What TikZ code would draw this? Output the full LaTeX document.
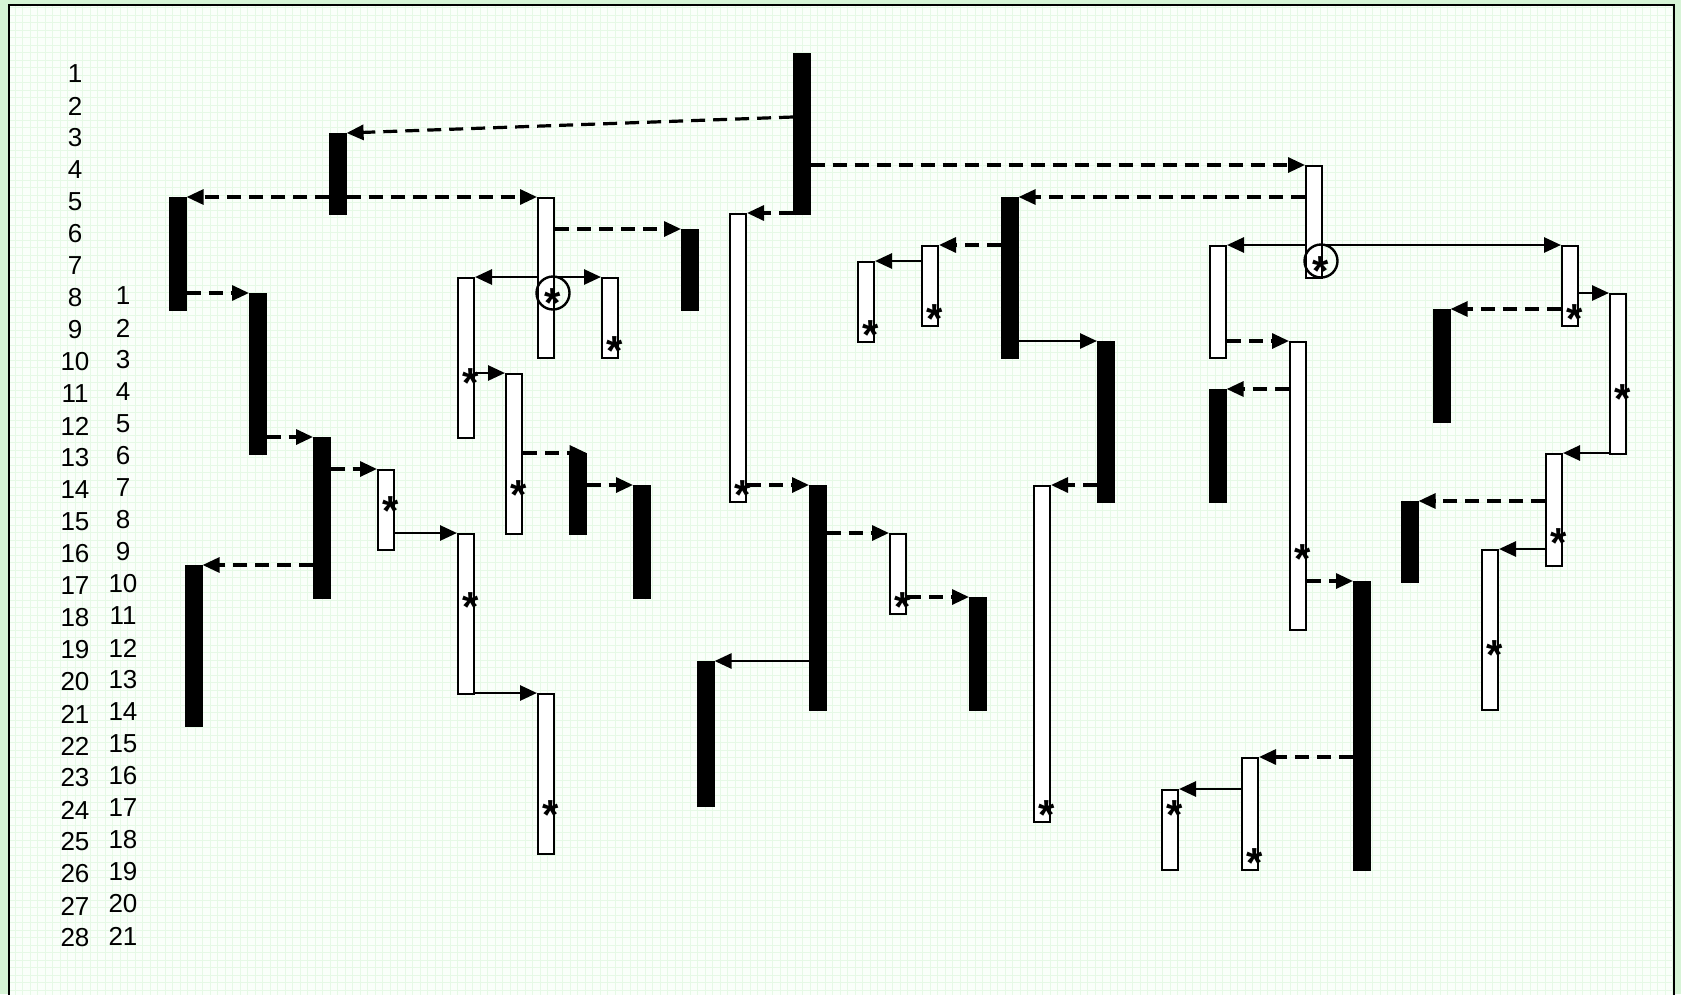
\documentclass[tikz,border=0pt]{standalone}
\usepackage{fontspec}
\setmainfont{Liberation Sans}
\usetikzlibrary{arrows.meta,calc}
\pgfdeclarelayer{back}
\pgfdeclarelayer{under}
\pgfsetlayers{back,under,main}
\definecolor{outergreen}{RGB}{214,244,214}
\definecolor{innerbg}{RGB}{250,255,250}
\definecolor{gridgreen}{RGB}{230,249,230}
\tikzset{
 bar/.style={rectangle, draw=black, fill=black, line width=1.6pt, minimum width=16pt, inner sep=0pt, anchor=north west},
 box/.style={rectangle, draw=black, fill=white, line width=2pt, minimum width=16pt, inner sep=0pt, anchor=north west},
 darr/.style={line width=3.2pt, dash pattern=on 14pt off 8pt, -{Triangle[length=17pt,width=15pt]}},
 sarr/.style={line width=2.8pt, -{Triangle[length=17pt,width=15pt]}},
 num/.style={font=\fontsize{26}{26}\selectfont, inner sep=0pt},
 star/.style={font=\fontsize{42}{42}\bfseries\selectfont, inner sep=0pt, anchor=base, yshift=-24pt},
 ring/.style={circle, draw=black, line width=2.4pt, minimum size=33pt, inner sep=0pt},
}
\begin{document}
\begin{tikzpicture}[x=1pt,y=-1pt]
\useasboundingbox (0,0) rectangle (1681,994);
\begin{pgfonlayer}{back}
\fill[outergreen] (0,0) rectangle (1681,994);
\fill[innerbg] (9,5) rectangle (1674,1000);
\draw[gridgreen, line width=0.8pt] (9,5) grid[step=7.5pt] (1674,1000);
\draw[line width=2.4pt] (9,1005) -- (9,5) -- (1674,5) -- (1674,1005);
\end{pgfonlayer}

% row numbers
\foreach \k in {1,...,28} \node[num] (l\k) at (75,{42+32*\k}) {\k};
\foreach \j in {1,...,21} \node[num] (r\j) at (123,{264+32*\j}) {\j};

% bars and boxes
\node[bar, minimum height=112pt] (A) at (169,197) {};
\node[bar, minimum height=80pt] (B) at (329,133) {};
\node[bar, minimum height=160pt] (C) at (249,293) {};
\node[bar, minimum height=160pt] (D) at (313,437) {};
\node[box, minimum height=80pt] (E) at (377,469) {};
\node[bar, minimum height=160pt] (F) at (185,565) {};
\node[bar, minimum height=160pt] (G) at (793,53) {};
\node[box, minimum height=288pt] (H) at (729,213) {};
\node[box, minimum height=160pt] (I) at (537,197) {};
\node[bar, minimum height=80pt] (J) at (681,229) {};
\node[box, minimum height=160pt] (K) at (457,277) {};
\node[box, minimum height=80pt] (L) at (601,277) {};
\node[box, minimum height=160pt] (M) at (505,373) {};
\node[bar, minimum height=80pt] (N) at (569,453) {};
\node[bar, minimum height=112pt] (O) at (633,485) {};
\node[box, minimum height=160pt] (P) at (457,533) {};
\node[bar, minimum height=224pt] (Q) at (809,485) {};
\node[box, minimum height=80pt] (R) at (889,533) {};
\node[bar, minimum height=144pt] (S) at (697,661) {};
\node[box, minimum height=160pt] (T) at (537,693) {};
\node[bar, minimum height=160pt] (U) at (1001,197) {};
\node[box, minimum height=112pt] (V) at (1305,165) {};
\node[box, minimum height=80pt] (W) at (921,245) {};
\node[box, minimum height=80pt] (X) at (857,261) {};
\node[box, minimum height=112pt] (Y) at (1209,245) {};
\node[box, minimum height=80pt] (Z) at (1561,245) {};
\node[bar, minimum height=112pt] (AA) at (1433,309) {};
\node[box, minimum height=160pt] (AB) at (1609,293) {};
\node[box, minimum height=288pt] (AC) at (1289,341) {};
\node[bar, minimum height=112pt] (AD) at (1209,389) {};
\node[bar, minimum height=288pt] (AE) at (1353,581) {};
\node[box, minimum height=112pt] (AF) at (1545,453) {};
\node[bar, minimum height=80pt] (AG) at (1401,501) {};
\node[box, minimum height=160pt] (AH) at (1481,549) {};
\node[bar, minimum height=160pt] (AI) at (1097,341) {};
\node[box, minimum height=336pt] (AJ) at (1033,485) {};
\node[bar, minimum height=112pt] (AK) at (969,597) {};
\node[box, minimum height=112pt] (AL) at (1241,757) {};
\node[box, minimum height=80pt] (AM) at (1161,789) {};

% connectors
\draw[darr] ([yshift=-64pt]G.north west) -- (B.north east);
\draw[darr] (B.west |- A.north east) -- (A.north east);
\draw[darr] (B.east |- I.north west) -- (I.north west);
\draw[darr] (A.east |- C.north west) -- (C.north west);
\draw[darr] (C.east |- D.north west) -- (D.north west);
\draw[darr] (D.east |- E.north west) -- (E.north west);
\draw[darr] (D.west |- F.north east) -- (F.north east);
\draw[sarr] (E.east |- P.north west) -- (P.north west);
\draw[sarr] (P.east |- T.north west) -- (T.north west);
\draw[sarr] (I.west |- K.north east) -- (K.north east);
\draw[sarr] (I.east |- L.north west) -- (L.north west);
\draw[darr] (I.east |- J.north west) -- (J.north west);
\draw[sarr] (K.east |- M.north west) -- (M.north west);
\begin{pgfonlayer}{under}
\draw[darr] (M.east |- N.north west) -- (N.north east);
\end{pgfonlayer}
\draw[darr] (N.east |- O.north west) -- (O.north west);
\draw[darr] (G.west |- H.north east) -- (H.north east);
\draw[darr] (H.east |- Q.north west) -- (Q.north west);
\draw[darr] (Q.east |- R.north west) -- (R.north west);
\draw[sarr] (Q.west |- S.north east) -- (S.north east);
\draw[darr] (R.east |- AK.north west) -- (AK.north west);
\draw[darr] (G.east |- V.north west) -- (V.north west);
\draw[darr] (V.west |- U.north east) -- (U.north east);
\draw[sarr] (V.west |- Y.north east) -- (Y.north east);
\draw[sarr] (V.east |- Z.north west) -- (Z.north west);
\draw[darr] (U.west |- W.north east) -- (W.north east);
\draw[sarr] (W.west |- X.north east) -- (X.north east);
\draw[sarr] (U.east |- AI.north west) -- (AI.north west);
\draw[darr] (AI.west |- AJ.north east) -- (AJ.north east);
\draw[darr] (Y.east |- AC.north west) -- (AC.north west);
\draw[darr] (AC.west |- AD.north east) -- (AD.north east);
\draw[darr] (AC.east |- AE.north west) -- (AE.north west);
\draw[darr] (AE.west |- AL.north east) -- (AL.north east);
\draw[sarr] (AL.west |- AM.north east) -- (AM.north east);
\draw[darr] (Z.west |- AA.north east) -- (AA.north east);
\draw[sarr] (Z.east |- AB.north west) -- (AB.north west);
\draw[sarr] (AB.west |- AF.north east) -- (AF.north east);
\draw[darr] (AF.west |- AG.north east) -- (AG.north east);
\draw[sarr] (AF.west |- AH.north east) -- (AH.north east);

% circles
\node[ring] (c1) at (553,293) {};
\node[ring] (c2) at (1321,261) {};

% asterisks
\node[star] (s1) at (553,293) {*};
\node[star] (s2) at (1321,261) {*};
\node[star] (s3) at (391,501) {*};
\node[star] (s4) at (743,485) {*};
\node[star] (s5) at (471,373) {*};
\node[star] (s6) at (615,341) {*};
\node[star] (s7) at (519,485) {*};
\node[star] (s8) at (471,597) {*};
\node[star] (s9) at (551,805) {*};
\node[star] (s10) at (903,597) {*};
\node[star] (s11) at (935,309) {*};
\node[star] (s12) at (871,325) {*};
\node[star] (s13) at (1575,309) {*};
\node[star] (s14) at (1623,389) {*};
\node[star] (s15) at (1303,549) {*};
\node[star] (s16) at (1559,533) {*};
\node[star] (s17) at (1495,645) {*};
\node[star] (s18) at (1047,805) {*};
\node[star] (s19) at (1255,853) {*};
\node[star] (s20) at (1175,805) {*};
\end{tikzpicture}
\end{document}
